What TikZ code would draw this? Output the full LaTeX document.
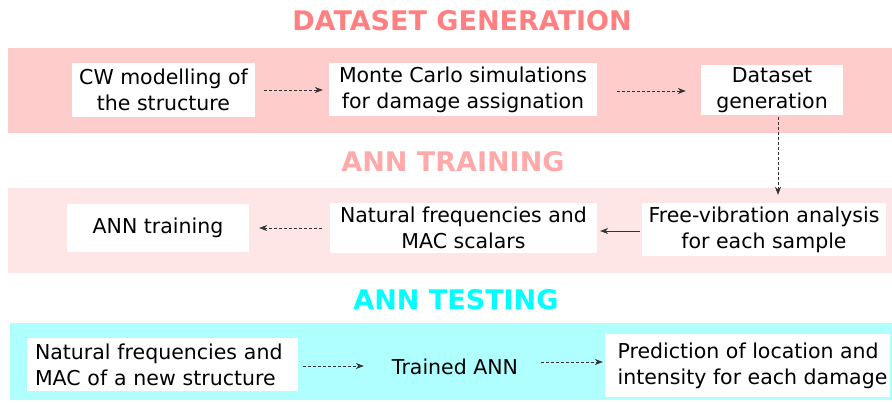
\documentclass[tikz,border=0pt]{standalone}
\usepackage{fontspec}
\setmainfont{DejaVu Sans}
\usetikzlibrary{arrows.meta, positioning, calc}
\usepackage{xcolor}
\definecolor{genred}{RGB}{255,128,128}
\definecolor{genband}{RGB}{255,204,204}
\definecolor{trainred}{RGB}{255,170,170}
\definecolor{trainband}{RGB}{255,230,230}
\definecolor{testcyan}{RGB}{0,255,255}
\definecolor{testband}{RGB}{176,255,255}

\begin{document}
\begin{tikzpicture}[x=1pt,y=-1pt,
  stagebox/.style={fill=white, inner sep=0pt, align=center,
    font=\fontsize{20.5}{26}\selectfont},
  title/.style={font=\fontsize{27}{30}\selectfont\bfseries},
  flow/.style={-{Stealth[length=8pt,width=6pt]}, black!80, line width=0.6pt},
  dflow/.style={flow, densely dashed}]
  \useasboundingbox (0,0) rectangle (892,402);
  % bands
  \fill[genband] (8,48) rectangle (892,133);
  \fill[trainband] (8,188) rectangle (892,273);
  \fill[testband] (10,323) rectangle (892,400);
  % titles
  \node[title, text=genred] (tgen) at (462,21) {DATASET GENERATION};
  \node[title, text=trainred] (ttrain) at (453,162) {ANN TRAINING};
  \node[title, text=testcyan] (ttest) at (456,300) {ANN TESTING};
  % dataset generation
  \node[stagebox, minimum width=183, minimum height=54] (cw) at (163.5,90)
    {CW modelling of\\the structure};
  \node[stagebox, minimum width=268, minimum height=53] (mc) at (463,89.5)
    {Monte Carlo simulations\\for damage assignation};
  \node[stagebox, minimum width=142, minimum height=50] (ds) at (772,90)
    {Dataset\\generation};
  % ann training
  \node[stagebox, minimum width=244, minimum height=53] (fv) at (764,229.5)
    {Free-vibration analysis\\for each sample};
  \node[stagebox, minimum width=267, minimum height=50] (nf) at (463.5,228)
    {Natural frequencies and\\MAC scalars};
  \node[stagebox, minimum width=182, minimum height=48] (ann) at (158,228)
    {ANN training};
  % ann testing
  \node[stagebox, align=left, inner xsep=8pt, text width=255pt, minimum height=53] (new) at (162.5,364.5)
    {Natural frequencies and\\MAC of a new structure};
  \node[stagebox, fill=none, inner sep=3pt] (trained) at (455,367) {Trained ANN};
  \node[stagebox, align=left, minimum width=285, minimum height=63] (pred) at (747.5,365.5)
    {\hspace*{10pt}Prediction of location and\\\hspace*{10pt}intensity for each damage};
  % connectors
  \draw[dflow, shorten <=9pt, shorten >=6pt] (cw.east) -- (cw.east -| mc.west);
  \draw[dflow, shorten <=20pt, shorten >=15pt] ($(mc.east)+(0,1.5)$) -- ($(ds.west)+(0,1)$);
  \draw[dflow, shorten <=2pt, shorten >=8pt] ([xshift=6pt]ds.south) -- ([xshift=6pt]ds.south |- fv.north);
  \draw[flow, shorten <=2pt, shorten >=3pt] ([yshift=-1.5pt]fv.west) -- ([yshift=-1.5pt]fv.west -| nf.east);
  \draw[dflow, shorten <=8pt, shorten >=10pt] (nf.west) -- (nf.west -| ann.east);
  \draw[dflow, shorten <=5pt, shorten >=25pt] ([yshift=-1.5pt]new.east) -- ([yshift=-1.5pt]new.east -| trained.west);
  \draw[dflow, shorten <=20pt, shorten >=2pt] ([yshift=5pt]trained.east) -- ([yshift=5pt]trained.east -| pred.west);
\end{tikzpicture}
\end{document}
